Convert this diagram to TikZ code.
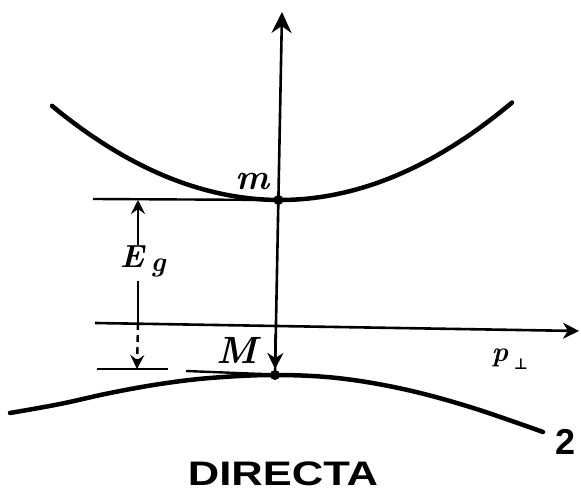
\documentclass[tikz,border=0pt]{standalone}
\usepackage{fontspec}
\setsansfont{Liberation Sans}
\newfontfamily\symfnt{DejaVu Sans}
\usetikzlibrary{arrows.meta}
\begin{document}
\begin{tikzpicture}[x=1pt,y=-1pt,
  band/.style={line width=4.5pt, line cap=round},
  axis/.style={line width=2.6pt},
  lvl/.style={line width=2.4pt},
  bigtip/.style={-{Stealth[length=21pt,width=20pt,inset=7pt]}},
  midtip/.style={-{Stealth[length=16pt,width=16pt,inset=5pt]}},
  smalltip/.style={-{Stealth[length=14pt,width=14pt,inset=5pt]}},
  lab/.style={inner sep=0pt, font=\bfseries\itshape},
  dot/.style={circle, fill=black, inner sep=0pt, minimum size=10pt}]
\useasboundingbox (0,0) rectangle (581,502);
% key points
\coordinate (vtop) at (282,12);
\node[dot] (mdot) at (278.4,200) {};
\node[dot] (Mdot) at (275,375) {};
\coordinate (Mtip) at (275.1,369);
\coordinate (Mstart) at (275.6,335);
\coordinate (hL) at (95,323);
\coordinate (hR) at (579,331);
\coordinate (uL) at (93,199);
\coordinate (lLa) at (97,369);
\coordinate (lLb) at (168,369);
\coordinate (lLc) at (186,371);
\coordinate (lLd) at (262,374);
\coordinate (eTop) at (138,200);
\coordinate (eA) at (138,245);
\coordinate (eB) at (138,281);
\coordinate (eAx) at (138,323);
\coordinate (eBot) at (137,369);
% bands
\draw[band] plot[domain=52:512, samples=80] (\x, {200-18.1*((\x-280)/100)^2});
\draw[band, smooth, tension=0.6] plot coordinates {(10,413) (60,404) (110,393) (160,384) (210,378) (273,375) (337,378) (403,389) (470,407) (543,432)};
% axes
\draw[axis, bigtip] (Mdot.center) -- (vtop);
\draw[axis, midtip] (hL) -- (hR);
\draw[axis, midtip] (Mstart) -- (Mtip);
% levels
\draw[lvl] (uL) -- (mdot.center);
\draw[lvl] (lLa) -- (lLb);
\draw[lvl] (lLc) -- (lLd);
% gap arrows
\draw[lvl, smalltip] (eA) -- (eTop);
\draw[lvl] (eB) -- (eAx);
\draw[lvl, smalltip, dash pattern=on 7pt off 5pt] (eAx) -- (eBot);
% labels
\node[lab] (Elab) at (132,257) {\fontsize{32}{36}\selectfont E};
\node[lab] (glab) at (158,268) {\fontsize{28}{32}\selectfont g};
\node[lab] (mlab) at (252,182) {\fontsize{36}{40}\selectfont m};
\node[lab] (Mlab) at (237,350) {\fontsize{38}{42}\selectfont M};
\node[lab] (plab) at (500,358) {\fontsize{28}{32}\selectfont p};
\node[lab, font=\symfnt\bfseries] (perp) at (521,364) {\fontsize{15}{17}\selectfont ⊥};
\node[lab, font=\sffamily\bfseries] (two) at (566,442) {\fontsize{36}{40}\selectfont 2};
\node[lab, font=\sffamily\bfseries] (title) at (283,474) {\fontsize{34}{38}\selectfont\scalebox{1.28}[1]{DIRECTA}};
\end{tikzpicture}
\end{document}
